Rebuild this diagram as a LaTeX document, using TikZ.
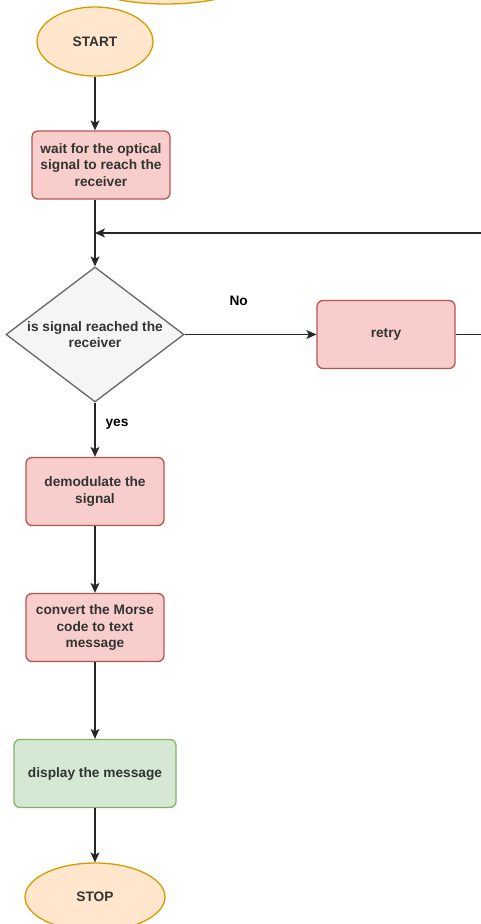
\documentclass[tikz,border=0pt]{standalone}
\usepackage{fontspec}
\setmainfont{Liberation Sans}
\usepackage{xcolor}
\usepackage{tikz}
\usetikzlibrary{shapes.geometric, arrows.meta, positioning}
\definecolor{termfill}{HTML}{FFE6CC}
\definecolor{termline}{HTML}{D79B00}
\definecolor{procfill}{HTML}{F8CECC}
\definecolor{procline}{HTML}{B85450}
\definecolor{showfill}{HTML}{D5E8D4}
\definecolor{showline}{HTML}{82B366}
\definecolor{askfill}{HTML}{F5F5F5}
\definecolor{askline}{HTML}{666666}
\definecolor{txt}{HTML}{333333}
\newcommand{\flowfont}{\fontsize{13.7}{16.7}\selectfont\bfseries}
\tikzstyle{terminal} = [ellipse, draw=termline, fill=termfill, line width=1.3pt, minimum width=116pt, minimum height=69pt, font=\flowfont, text=txt]
\tikzstyle{block} = [rectangle, draw=procline, fill=procfill, rounded corners=6pt, line width=1.3pt, minimum width=138pt, minimum height=68pt, align=center, font=\flowfont, text=txt]
\tikzstyle{decision} = [diamond, draw=askline, fill=askfill, line width=1.3pt, minimum width=178pt, minimum height=135pt, inner sep=0pt]
\tikzstyle{flowtext} = [align=center, font=\flowfont, text=txt]
\tikzstyle{flow} = [draw=black!85, line width=1.1pt, -{Stealth[length=10pt, width=9pt, inset=2.5pt]}]

\begin{document}
\begin{tikzpicture}[x=1pt, y=-1pt, node distance=120pt]
    \clip (0,0) rectangle (481,924);
    % Steps
    \node [terminal, minimum width=190pt, minimum height=64pt] (prev) at (166,-28) {};
    \node [terminal] (start) at (95,41.5) {START};
    \node [block, below of=start, node distance=123.5pt, xshift=6pt] (wait) {wait for the optical\\signal to reach the\\receiver};
    \node [decision, below of=wait, node distance=169.5pt, xshift=-6pt, label={[flowtext]center:is signal reached the\\receiver}] (decide) {};
    \node [block, right of=decide, node distance=291pt] (retry) {retry};
    \node [block, below of=decide, node distance=157pt] (demod) {demodulate the\\signal};
    \node [block, below of=demod, node distance=136pt] (convert) {convert the Morse\\code to text\\message};
    \node [block, below of=convert, node distance=146pt, fill=showfill, draw=showline, minimum width=162pt] (show) {display the message};
    \node [terminal, below of=show, node distance=123.5pt, minimum width=140pt, minimum height=68pt] (stop) {STOP};
    \coordinate [above of=decide, node distance=101.5pt] (back);

    % Connectors
    \draw [flow] (start) -- (start |- wait.north);
    \draw [flow] (decide |- wait.south) -- (decide);
    \draw [flow] (decide) -- node[pos=0.41, yshift=34pt, flowtext, text=black] {No} (retry);
    \draw [flow] (retry.east) -- ++(40,0) |- (back);
    \draw [flow] (decide) -- node[pos=0.4, xshift=22pt, flowtext, text=black] {yes} (demod);
    \draw [flow] (demod) -- (convert);
    \draw [flow] (convert) -- (show);
    \draw [flow] (show) -- (stop);
\end{tikzpicture}
\end{document}
